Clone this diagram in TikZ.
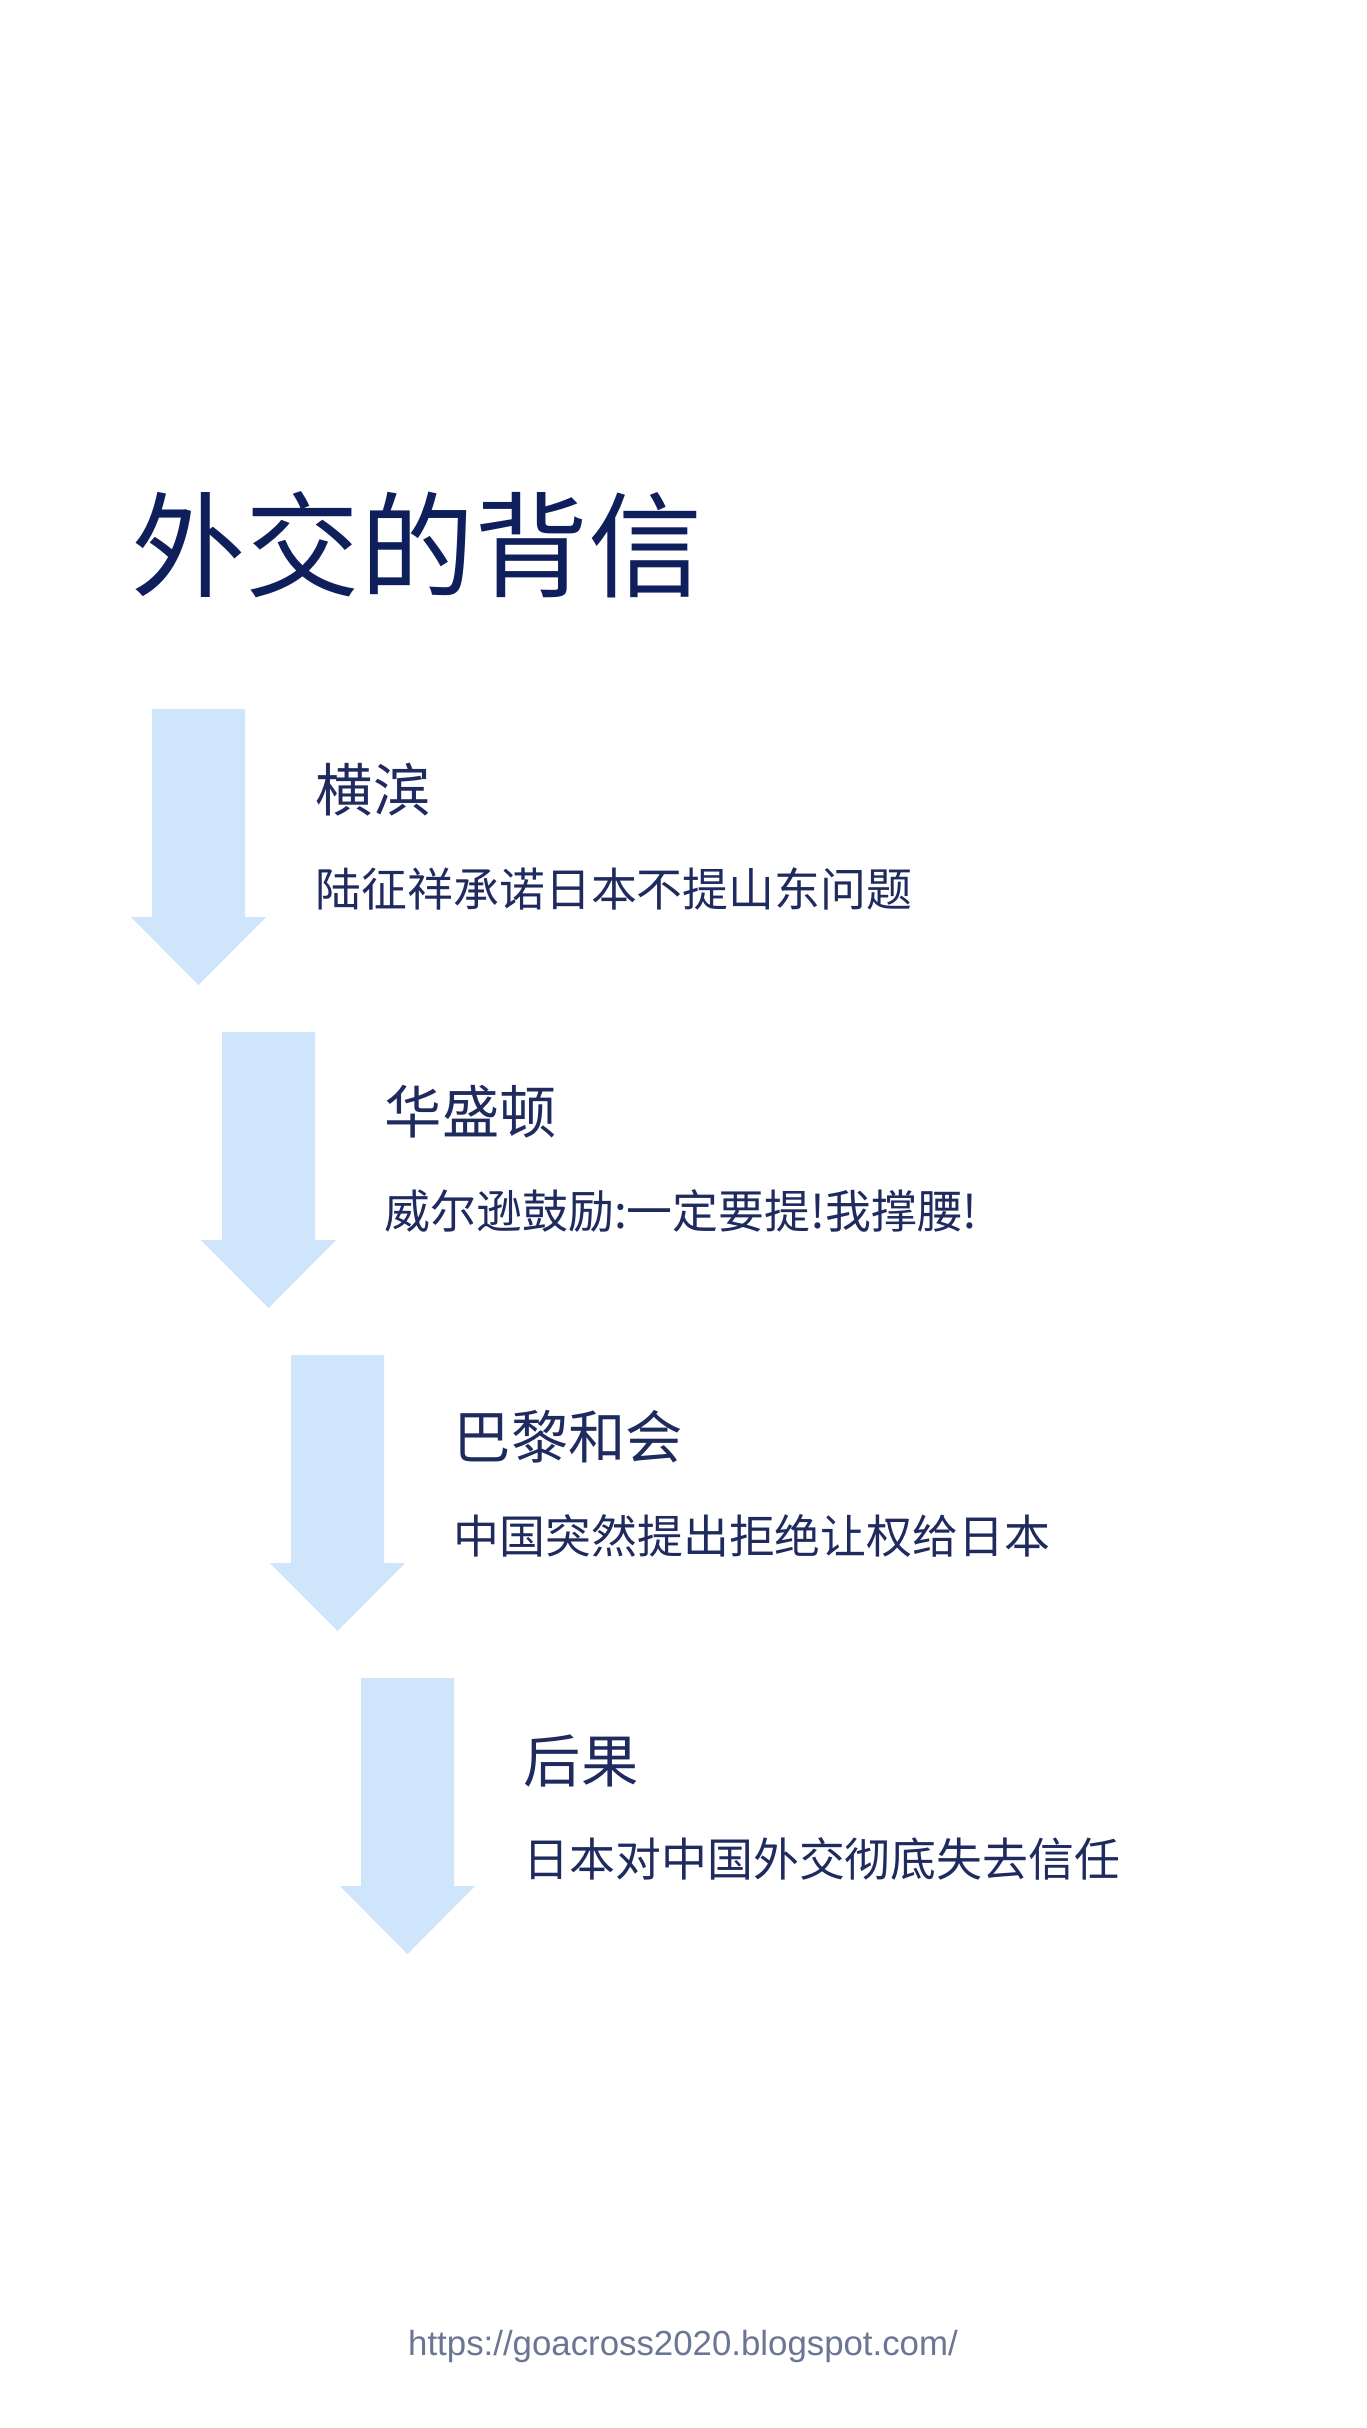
\documentclass[tikz,border=0pt]{standalone}
\usepackage{fontspec}
\setmainfont{Liberation Sans}
\newfontfamily\cjk{Noto Sans CJK SC}
\definecolor{TitleNavy}{HTML}{0F1F5C}
\definecolor{TextNavy}{HTML}{1F2B5E}
\definecolor{ArrowBlue}{HTML}{CFE5FB}
\definecolor{LinkGrey}{HTML}{6B7694}

\begin{document}
\begin{tikzpicture}[x=0.01cm, y=-0.01cm,
    title/.style = {anchor=west, inner sep=0pt, text=TitleNavy, font=\cjk\fontsize{32.5}{36}\selectfont},
    heading/.style = {anchor=west, inner sep=0pt, text=TextNavy, font=\cjk\fontsize{16.3}{20}\selectfont},
    desc/.style = {anchor=west, inner sep=0pt, text=TextNavy, font=\cjk\fontsize{13.05}{16}\selectfont},
    downarrow/.style = {fill=ArrowBlue, draw=none}]
    \fill[white] (0,0) rectangle (1366,2428);
    \useasboundingbox (0,0) rectangle (1366,2428);

    \node[title] (title) at (131,545) {外交的背信};

    % arrows
    \fill[downarrow] (152,709) -- ++(93,0) -- ++(0,208) -- ++(21,0) -- ++(-67.5,68) -- ++(-67.5,-68) -- ++(21,0) -- cycle;
    \fill[downarrow] (222,1032) -- ++(93,0) -- ++(0,208) -- ++(21,0) -- ++(-67.5,68) -- ++(-67.5,-68) -- ++(21,0) -- cycle;
    \fill[downarrow] (291,1355) -- ++(93,0) -- ++(0,208) -- ++(21,0) -- ++(-67.5,68) -- ++(-67.5,-68) -- ++(21,0) -- cycle;
    \fill[downarrow] (361,1678) -- ++(93,0) -- ++(0,208) -- ++(21,0) -- ++(-67.5,68) -- ++(-67.5,-68) -- ++(21,0) -- cycle;

    % steps
    \node[heading] (yokohama) at (315,790) {横滨};
    \node[desc] (yokohamaText) at (315,889) {陆征祥承诺日本不提山东问题};
    \node[heading] (washington) at (384,1112) {华盛顿};
    \node[desc] (washingtonText) at (384,1211) {威尔逊鼓励:一定要提!我撑腰!};
    \node[heading] (paris) at (453,1437) {巴黎和会};
    \node[desc] (parisText) at (453,1536) {中国突然提出拒绝让权给日本};
    \node[heading] (result) at (523,1761) {后果};
    \node[desc] (resultText) at (523,1859) {日本对中国外交彻底失去信任};

    \node[text=LinkGrey, font=\fontsize{9.9}{12}\selectfont] (link) at (683,2346) {https://goacross2020.blogspot.com/};
\end{tikzpicture}
\end{document}
